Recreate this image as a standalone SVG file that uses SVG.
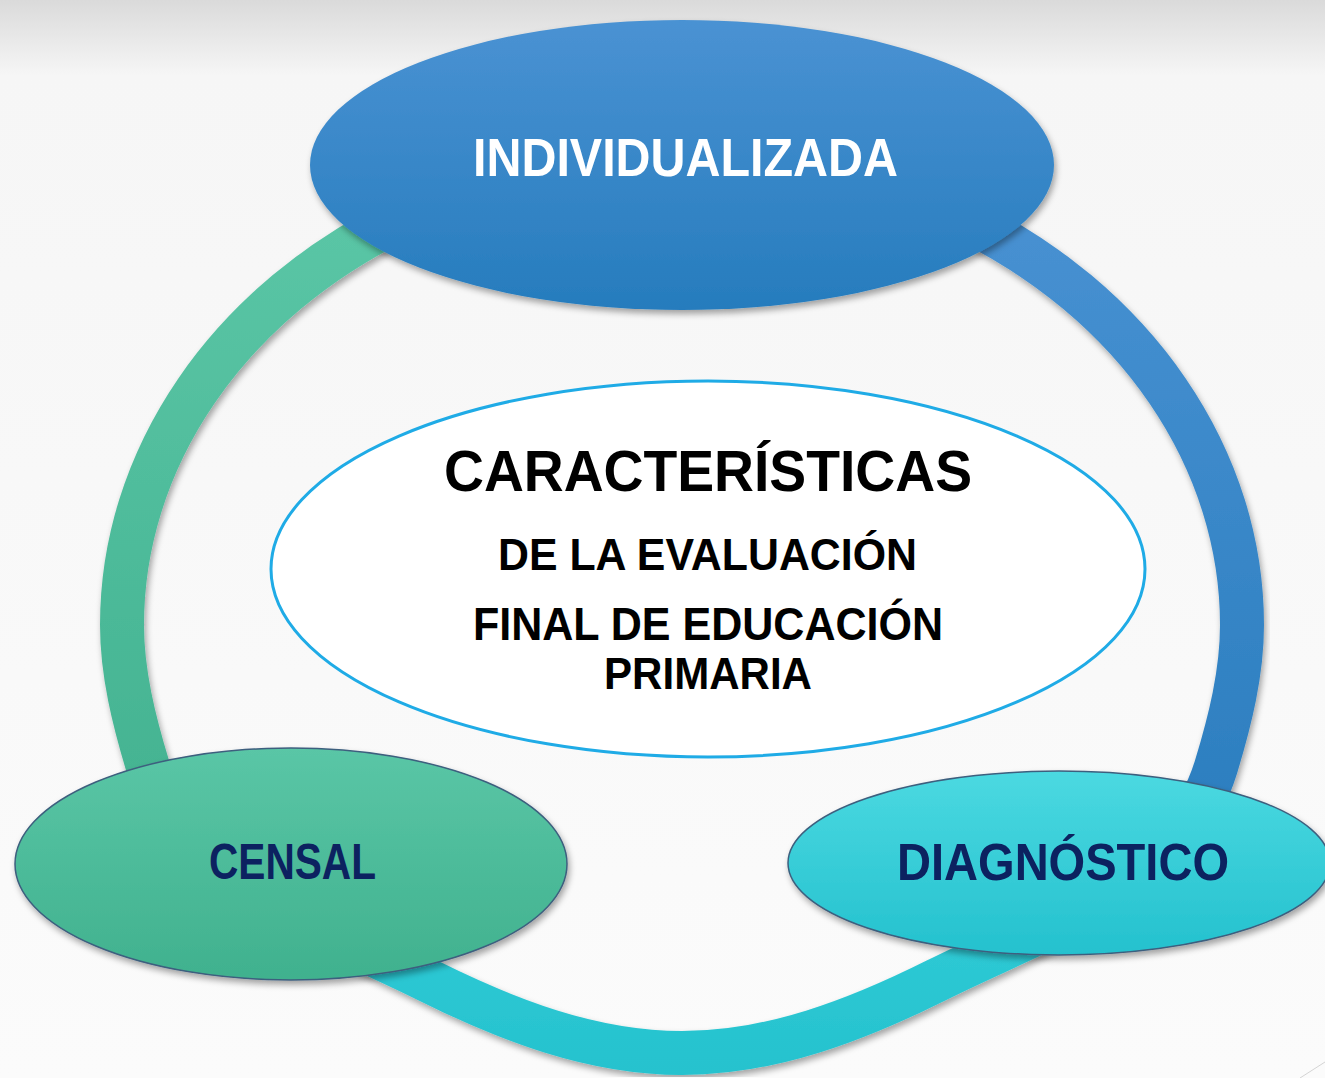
<svg xmlns="http://www.w3.org/2000/svg" width="1325" height="1078" viewBox="0 0 1325 1078">
<defs>
  <linearGradient id="bg" x1="0" y1="0" x2="0" y2="1078" gradientUnits="userSpaceOnUse">
    <stop offset="0" stop-color="#dadada"/>
    <stop offset="0.07" stop-color="#f6f6f6"/>
    <stop offset="1" stop-color="#fbfbfb"/>
  </linearGradient>
  <linearGradient id="gGreen" x1="0" y1="200" x2="0" y2="900" gradientUnits="userSpaceOnUse">
    <stop offset="0" stop-color="#5bc6a6"/>
    <stop offset="1" stop-color="#40b08e"/>
  </linearGradient>
  <linearGradient id="gBlue" x1="0" y1="200" x2="0" y2="900" gradientUnits="userSpaceOnUse">
    <stop offset="0" stop-color="#4891d2"/>
    <stop offset="1" stop-color="#287cbd"/>
  </linearGradient>
  <linearGradient id="gTeal" x1="0" y1="880" x2="0" y2="1075" gradientUnits="userSpaceOnUse">
    <stop offset="0" stop-color="#32ccd7"/>
    <stop offset="1" stop-color="#25c2ce"/>
  </linearGradient>
  <linearGradient id="fTop" x1="0" y1="0" x2="0" y2="1">
    <stop offset="0" stop-color="#4a92d3"/>
    <stop offset="1" stop-color="#267cbd"/>
  </linearGradient>
  <linearGradient id="fCensal" x1="0" y1="0" x2="0" y2="1">
    <stop offset="0" stop-color="#5ac6a6"/>
    <stop offset="1" stop-color="#40b18e"/>
  </linearGradient>
  <linearGradient id="fDiag" x1="0" y1="0" x2="0" y2="1">
    <stop offset="0" stop-color="#4bd9e1"/>
    <stop offset="1" stop-color="#24c1ce"/>
  </linearGradient>
  <filter id="shadow" x="-10%" y="-10%" width="120%" height="125%">
    <feDropShadow dx="2" dy="4" stdDeviation="3" flood-color="#000" flood-opacity="0.35"/>
  </filter>
  <style>
    .ring { fill: none; stroke-width: 44; filter: url(#shadow); }
    .node { filter: url(#shadow); }
    .lbl { font-family: "Liberation Sans", Arial, sans-serif; font-weight: bold; text-anchor: middle; }
    .white { fill: #ffffff; }
    .navy { fill: #0c2260; }
    .black { fill: #000000; }
  </style>
</defs>

<rect x="0" y="0" width="1325" height="1078" fill="url(#bg)"/>
<line x1="1300" y1="1078" x2="1325" y2="1062" stroke="#d4d4d4" stroke-width="1"/>

<g id="connectors">
  <path class="ring" stroke="url(#gGreen)" d="M 400 219 A 560 470 0 0 0 122 625 C 122 673 134 721 148 767 C 166 826 208.25 865.5 259.75 897.1"/>
  <path class="ring" stroke="url(#gTeal)" d="M 259.75 897.1 C 311.25 928.75 372 952.5 427 980 C 507 1020 592 1053 682 1053 C 772 1053 857 1020 937 980 C 992 952.5 1052.75 928.75 1104.25 897.1"/>
  <path class="ring" stroke="url(#gBlue)" d="M 1104.25 897.1 C 1155.75 865.5 1198 826 1216 767 C 1230 721 1242 673 1242 625 A 560 470 0 0 0 964 219"/>
</g>

<g id="center">
  <ellipse cx="708" cy="569" rx="437" ry="188" fill="#ffffff" stroke="#1fabe6" stroke-width="3"/>
  <text class="lbl black" x="708" y="491" font-size="57" textLength="528" lengthAdjust="spacingAndGlyphs">CARACTERÍSTICAS</text>
  <text class="lbl black" x="707.5" y="570" font-size="45" textLength="419" lengthAdjust="spacingAndGlyphs">DE LA EVALUACIÓN</text>
  <text class="lbl black" x="708" y="640" font-size="46" textLength="470" lengthAdjust="spacingAndGlyphs">FINAL DE EDUCACIÓN</text>
  <text class="lbl black" x="708" y="689" font-size="45" textLength="208" lengthAdjust="spacingAndGlyphs">PRIMARIA</text>
</g>

<g id="individualizada">
  <ellipse class="node" cx="682" cy="165" rx="372" ry="145" fill="url(#fTop)"/>
  <text class="lbl white" x="685.5" y="176" font-size="53" textLength="425" lengthAdjust="spacingAndGlyphs">INDIVIDUALIZADA</text>
</g>

<g id="censal">
  <ellipse class="node" cx="291" cy="864" rx="276" ry="116" fill="url(#fCensal)" stroke="#3d5f7e" stroke-width="1.5"/>
  <text class="lbl navy" x="292.5" y="879" font-size="50" textLength="167" lengthAdjust="spacingAndGlyphs">CENSAL</text>
</g>

<g id="diagnostico">
  <ellipse class="node" cx="1059" cy="863" rx="271" ry="92" fill="url(#fDiag)" stroke="#3d5f7e" stroke-width="1.5"/>
  <text class="lbl navy" x="1063" y="880" font-size="52" textLength="332" lengthAdjust="spacingAndGlyphs">DIAGNÓSTICO</text>
</g>
</svg>
